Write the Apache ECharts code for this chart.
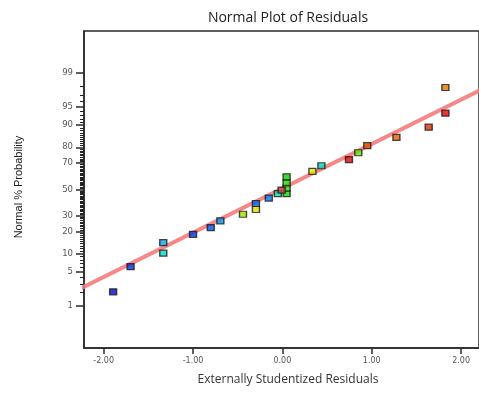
<!DOCTYPE html>
<html><head><meta charset="utf-8">
<script src="https://cdn.jsdelivr.net/npm/echarts@6/dist/echarts.min.js"></script>
<style>html,body{margin:0;padding:0;background:#fff;}#c{width:479px;height:394px;}</style>
</head><body><div id="c"></div>
<script>
// Residuals (x) and normal % probability (y)
const residuals = [-1.894, -1.699, -1.333, -1.333, -1.0, -0.802, -0.694, -0.441, -0.296, -0.296, -0.152, -0.051, 0.047, 0.047, 0.047, 0.047, -0.008, 0.336, 0.437, 0.745, 0.849, 0.95, 1.276, 1.637, 1.824, 1.824];
const probabilities = [2.07, 6.2, 14.5, 10.2, 18.6, 22.4, 26.6, 31.1, 39, 34.5, 43.2, 46.8, 46.8, 51.1, 55.3, 60, 49.5, 64.1, 68.2, 72.4, 76.8, 80.9, 85.1, 89.3, 93.6, 97.9];
const pointColors = ['#0008c8', '#0030e0', '#10a0e8', '#00d8c8', '#0040f0', '#0050e8', '#0098e8', '#a8e000', '#0060e8', '#d8e000', '#0078f0', '#00d8a8', '#10d800', '#30e000', '#20d800', '#10d000', '#c85050', '#e8e800', '#00d0b0', '#e00000', '#60e000', '#e05000', '#e06000', '#e03000', '#f00000', '#e07800'];
// Fitted line endpoints (residual, probability %)
const fitX = [-2.4, 2.4];
const fitP = [1.8, 98.4];
// Probability tick labels
const majorTicks = [1, 5, 10, 20, 30, 50, 70, 80, 90, 95, 99];
const xTicks = [-2, -1, 0, 1, 2];

function probit(p) {
  const a = [-3.969683028665376e+01, 2.209460984245205e+02, -2.759285104469687e+02, 1.383577518672690e+02, -3.066479806614716e+01, 2.506628277459239e+00];
  const b = [-5.447609879822406e+01, 1.615858368580409e+02, -1.556989798598866e+02, 6.680131188771972e+01, -1.328068155288572e+01];
  const c = [-7.784894002430293e-03, -3.223964580411365e-01, -2.400758277161838e+00, -2.549732539343734e+00, 4.374664141464968e+00, 2.938163982698783e+00];
  const d = [7.784695709041462e-03, 3.224671290700398e-01, 2.445134137142996e+00, 3.754408661907416e+00];
  const pl = 0.02425, ph = 1 - pl;
  let q, r;
  if (p < pl) { q = Math.sqrt(-2 * Math.log(p)); return (((((c[0]*q+c[1])*q+c[2])*q+c[3])*q+c[4])*q+c[5]) / ((((d[0]*q+d[1])*q+d[2])*q+d[3])*q+1); }
  if (p <= ph) { q = p - 0.5; r = q*q; return (((((a[0]*r+a[1])*r+a[2])*r+a[3])*r+a[4])*r+a[5])*q / (((((b[0]*r+b[1])*r+b[2])*r+b[3])*r+b[4])*r+1); }
  q = Math.sqrt(-2 * Math.log(1 - p)); return -(((((c[0]*q+c[1])*q+c[2])*q+c[3])*q+c[4])*q+c[5]) / ((((d[0]*q+d[1])*q+d[2])*q+d[3])*q+1);
}
const z = p => probit(p / 100);
const majorZ = majorTicks.map(z);
const minorP = [];
for (let i = 2; i <= 98; i++) if (majorTicks.indexOf(i) < 0) minorP.push(i);
const minorZ = minorP.map(z);

const pts = residuals.map((x, i) => ({ value: [x, z(probabilities[i])], itemStyle: { color: pointColors[i] } }));
const linePts = fitX.map((x, i) => [x, z(fitP[i])]);

const chart = echarts.init(document.getElementById('c'), null, { renderer: 'canvas' });
const yMin = -3.16, yMax = 3.16;
chart.setOption({
  animation: false,
  grid: { left: 84, top: 31, width: 408, height: 317, show: true, borderColor: '#2a2a2a', borderWidth: 1.5, backgroundColor: 'transparent' },
  xAxis: {
    type: 'value', min: -2.22, max: 2.2,
    splitLine: { show: false },
    axisLine: { show: true, onZero: false, lineStyle: { color: '#2a2a2a', width: 1.5 } },
    axisTick: { show: true, length: 6, customValues: xTicks, lineStyle: { color: '#2a2a2a', width: 1.5 } },
    axisLabel: { customValues: xTicks, margin: 9, fontSize: 8, fontFamily: 'DejaVu Sans', color: '#555', formatter: v => v.toFixed(2) }
  },
  yAxis: [{
    type: 'value', min: yMin, max: yMax, position: 'left',
    splitLine: { show: false },
    axisLine: { show: true, onZero: false, lineStyle: { color: '#2a2a2a', width: 1.5 } },
    axisTick: { show: true, length: 8, customValues: majorZ, lineStyle: { color: '#2a2a2a', width: 1.5 } },
    axisLabel: {
      customValues: majorZ, margin: 11, fontSize: 8.5, fontFamily: 'DejaVu Sans', color: '#555',
      formatter: v => { const i = majorZ.findIndex(m => Math.abs(m - v) < 1e-6); return i >= 0 ? String(majorTicks[i]) : ''; }
    }
  }, {
    type: 'value', min: yMin, max: yMax, position: 'left', offset: 0,
    splitLine: { show: false },
    axisLine: { show: false, onZero: false },
    axisTick: { show: true, length: 4, customValues: minorZ, lineStyle: { color: '#222', width: 1 } },
    axisLabel: { show: false }
  }],
  series: [{
    type: 'line', data: linePts, symbol: 'none', clip: true, silent: true,
    lineStyle: { color: '#f47c7c', width: 4, opacity: 0.9 }, z: 1
  }, {
    type: 'scatter', data: pts, symbol: 'rect', symbolSize: [7, 6],
    itemStyle: { borderColor: '#1a1a1a', borderWidth: 1.3 }, z: 3
  }],
  graphic: [
    { type: 'text', x: 288, y: 18, style: { text: 'Normal Plot of Residuals', font: '14px "Open Sans"', fill: '#222', textAlign: 'center', textVerticalAlign: 'middle' } },
    { type: 'text', x: 288, y: 380, style: { text: 'Externally Studentized Residuals', font: '12px "Open Sans"', fill: '#333', textAlign: 'center', textVerticalAlign: 'middle' } },
    { type: 'text', x: 19, y: 187, rotation: Math.PI / 2, style: { text: 'Normal % Probability', font: '11px "Liberation Sans Narrow", "Liberation Sans"', fill: '#222', textAlign: 'center', textVerticalAlign: 'middle' } }
  ]
});
</script></body></html>
